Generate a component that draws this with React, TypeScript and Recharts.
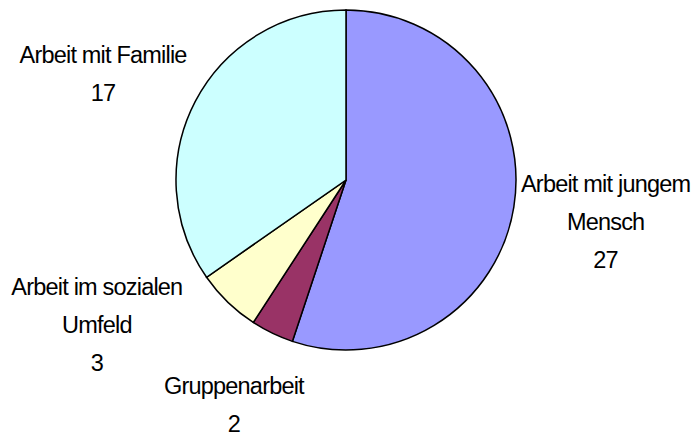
import { PieChart, Pie, Cell } from "recharts";

const categories = [
  "Arbeit mit jungem Mensch",
  "Gruppenarbeit",
  "Arbeit im sozialen Umfeld",
  "Arbeit mit Familie",
];
const counts = [27, 2, 3, 17];
const colors = ["#9999FF", "#993366", "#FFFFCC", "#CCFFFF"];

const data = categories.map((name, i) => ({ name, value: counts[i] }));

// Excel pushes some labels around to avoid collisions
const labelNudge: Record<string, { angle: number; dist: number }> = {
  "Arbeit im sozialen Umfeld": { angle: -15.8, dist: 25 },
  "Arbeit mit Familie": { angle: 4, dist: 2 },
  "Gruppenarbeit": { angle: -0.8, dist: -12 },
};

const RAD = Math.PI / 180;

function wrap(text: string, max: number) {
  const out: string[] = [];
  let cur = "";
  for (const w of text.split(" ")) {
    const next = cur ? cur + " " + w : w;
    if (next.length > max && cur) {
      out.push(cur);
      cur = w;
    } else cur = next;
  }
  if (cur) out.push(cur);
  return out;
}

function renderLabel(props: any) {
  const { cx, cy, midAngle, outerRadius, name, value } = props;
  const n = labelNudge[name] || { angle: 0, dist: 0 };
  const a = (midAngle + n.angle) * RAD;
  const r = outerRadius + 93 + n.dist;
  const x = cx + Math.cos(-a) * r;
  const y = cy + Math.sin(-a) * r;
  const lines = [...wrap(name, 18), String(value)];
  const gap = 38;
  return (
    <g>
      {lines.map((l, i) => (
        <text
          key={i}
          x={x}
          y={y + 8 + (i - (lines.length - 1) / 2) * gap}
          textAnchor="middle"
          fill="#000"
          fontSize={23.5}
          letterSpacing={-0.8}
          fontFamily="'Liberation Sans', Arial, sans-serif"
        >
          {l}
        </text>
      ))}
    </g>
  );
}

export default function App() {
  return (
    <div style={{ position: "absolute", left: 0, top: 0, background: "#fff" }}>
      <PieChart width={693} height={438} margin={{ top: 0, right: 0, bottom: 0, left: 0 }}>
        <Pie
          data={data}
          dataKey="value"
          nameKey="name"
          cx={346}
          cy={180}
          outerRadius={170}
          startAngle={90}
          endAngle={-270}
          stroke="#000"
          strokeWidth={1.5}
          labelLine={false}
          label={renderLabel}
          isAnimationActive={false}
        >
          {data.map((d, i) => (
            <Cell key={d.name} fill={colors[i]} />
          ))}
        </Pie>
      </PieChart>
    </div>
  );
}
